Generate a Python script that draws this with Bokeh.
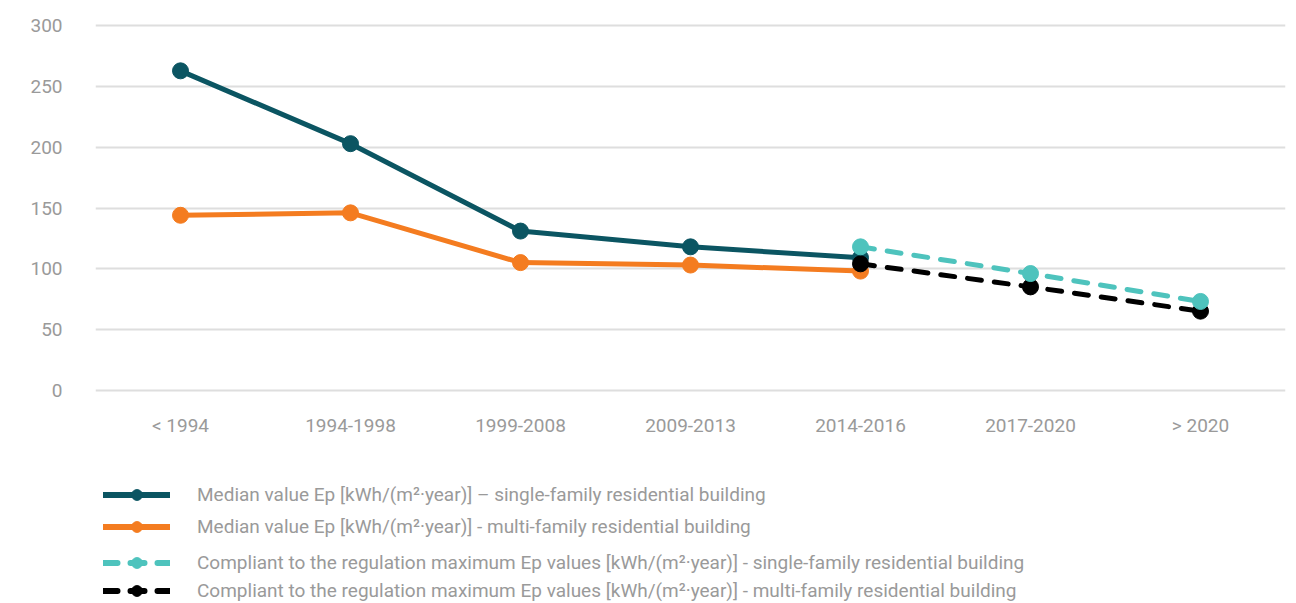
from bokeh.plotting import figure
from bokeh.layouts import column
from bokeh.models import FactorRange, Range1d, Legend, LegendItem, FixedTicker
from bokeh.embed import file_html
from bokeh.resources import INLINE

periods = ["< 1994", "1994-1998", "1999-2008", "2009-2013", "2014-2016", "2017-2020", "> 2020"]
median_periods = ["< 1994", "1994-1998", "1999-2008", "2009-2013", "2014-2016"]
median_single = [263, 203, 131, 118, 109]
median_multi = [144, 146, 105, 103, 98]
reg_periods = ["2014-2016", "2017-2020", "> 2020"]
reg_single = [118, 96, 73]
reg_multi = [104, 85, 65]
y_ticks = [0, 50, 100, 150, 200, 250, 300]

labels = [
    "Median value Ep [kWh/(m\u00b2\u00b7year)] \u2013 single-family residential building",
    "Median value Ep [kWh/(m\u00b2\u00b7year)] - multi-family residential building",
    "Compliant to the regulation maximum Ep values [kWh/(m\u00b2\u00b7year)] - single-family residential building",
    "Compliant to the regulation maximum Ep values [kWh/(m\u00b2\u00b7year)] - multi-family residential building",
]

C_TEAL = "#0b5562"
C_ORANGE = "#f47c20"
C_CYAN = "#4ec3bd"
C_BLACK = "#000000"
TXT = "#9a9a9a"
FONT = "Roboto"

DASH = "14 13"

p = figure(
    width=1296, height=445,
    x_range=FactorRange(*periods),
    y_range=Range1d(-2, 302),
    output_backend="svg", toolbar_location=None,
    min_border_left=95, min_border_right=11, min_border_top=23, min_border_bottom=53,
)
p.outline_line_color = None
p.background_fill_color = "white"
p.border_fill_color = "white"

p.xgrid.grid_line_color = None
p.ygrid.grid_line_color = "#dedede"
p.ygrid.grid_line_width = 2
p.yaxis.ticker = FixedTicker(ticks=y_ticks)

for ax in (p.xaxis[0], p.yaxis[0]):
    ax.axis_line_color = None
    ax.major_tick_line_color = None
    ax.minor_tick_line_color = None
    ax.major_tick_out = 0
    ax.major_tick_in = 0
    ax.major_label_text_font = FONT
    ax.major_label_text_font_size = "19px"
    ax.major_label_text_color = TXT
p.yaxis.major_label_standoff = 33
p.xaxis.major_label_standoff = 21


def draw_series(fig, lw, ms):
    r = {}
    r["o_l"] = fig.line(median_periods, median_multi, line_color=C_ORANGE, line_width=lw, line_cap="round")
    r["o_s"] = fig.scatter(median_periods, median_multi, size=ms, color=C_ORANGE)
    r["t_l"] = fig.line(median_periods, median_single, line_color=C_TEAL, line_width=lw, line_cap="round")
    r["t_s"] = fig.scatter(median_periods, median_single, size=ms, color=C_TEAL)
    r["b_l"] = fig.line(reg_periods, reg_multi, line_color=C_BLACK, line_width=lw, line_dash=DASH, line_cap="round")
    r["b_s"] = fig.scatter(reg_periods, reg_multi, size=ms, color=C_BLACK)
    r["c_l"] = fig.line(reg_periods, reg_single, line_color=C_CYAN, line_width=lw, line_dash=DASH, line_cap="round")
    r["c_s"] = fig.scatter(reg_periods, reg_single, size=ms, color=C_CYAN)
    return r

draw_series(p, 5, 16)

# legend panel (its own figure; series repeated there only as legend keys)
lf = figure(
    width=1296, height=158,
    x_range=FactorRange(*periods), y_range=Range1d(1000, 1001),
    output_backend="svg", toolbar_location=None,
    x_axis_location=None, y_axis_location=None,
    min_border_left=0, min_border_right=0, min_border_top=0, min_border_bottom=0,
)
lf.outline_line_color = None
lf.grid.visible = False
lr = draw_series(lf, 6, 10)
for rr in lr.values():
    rr.visible = False


def mk_legend(items, loc, spacing):
    lg = Legend(items=items, location=loc, orientation="vertical")
    lg.background_fill_alpha = 0
    lg.border_line_color = None
    lg.padding = 0
    lg.margin = 0
    lg.spacing = spacing
    lg.glyph_width = 67
    lg.glyph_height = 27
    lg.label_height = 27
    lg.label_standoff = 27
    lg.label_text_font = FONT
    lg.label_text_font_size = "19px"
    lg.label_text_color = TXT
    return lg

leg1 = mk_legend([
    LegendItem(label=labels[0], renderers=[lr["t_l"], lr["t_s"]]),
    LegendItem(label=labels[1], renderers=[lr["o_l"], lr["o_s"]]),
], (8, 63), 5)
leg2 = mk_legend([
    LegendItem(label=labels[2], renderers=[lr["c_l"], lr["c_s"]]),
    LegendItem(label=labels[3], renderers=[lr["b_l"], lr["b_s"]]),
], (8, -1), 1)
lf.add_layout(leg1, "center")
lf.add_layout(leg2, "center")

layout = column(p, lf, spacing=0)
open("out.html", "w").write(file_html(layout, INLINE))
